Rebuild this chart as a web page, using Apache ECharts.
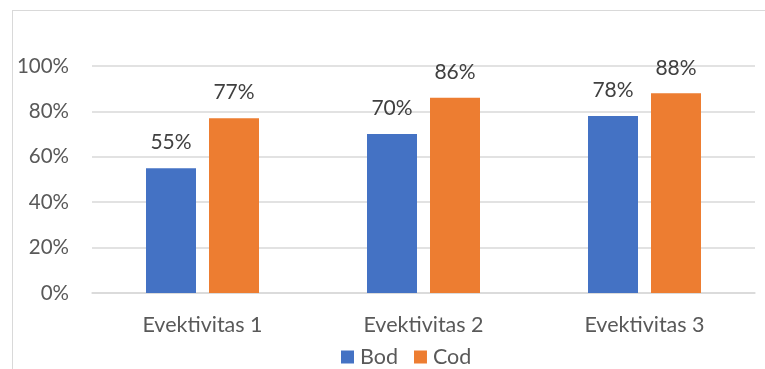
<!DOCTYPE html>
<html>
<head>
<meta charset="utf-8">
<script src="https://cdn.jsdelivr.net/npm/echarts@6/dist/echarts.min.js"></script>
<style>
  html,body{margin:0;padding:0;background:#fff;}
  #frame{position:absolute;left:12px;top:10px;width:800px;height:400px;border:1px solid #d9d9d9;box-sizing:border-box;}
  #chart{position:absolute;left:0;top:0;width:765px;height:369px;}
</style>
</head>
<body>
<div id="frame"></div>
<div id="chart"></div>
<script>
// data
const categories = ["Evektivitas 1", "Evektivitas 2", "Evektivitas 3"];
const bodValues = [55, 70, 78];
const codValues = [77, 86, 88];
const seriesNames = ["Bod", "Cod"];

const textFont = "Lato, 'Open Sans', sans-serif";

let chart = echarts.init(document.getElementById("chart"));

const labelStyle = {
    show: true,
    position: "top",
    distance: 15,
    formatter: p => p.value + "%",
    color: "#404040",
    fontSize: 21,
    fontFamily: textFont
};

const option = {
    animation: false,
    grid: {
        left: 92,
        right: 10,
        top: 66,
        bottom: 76
    },
    legend: {
        data: seriesNames,
        left: 336,
        top: 341,
        itemWidth: 13,
        itemHeight: 13,
        itemGap: 16,
        icon: "rect",
        textStyle: {
            color: "#595959",
            fontSize: 21.5,
            fontFamily: textFont,
            padding: [0, 0, 0, 1]
        }
    },
    xAxis: {
        type: "category",
        data: categories,
        axisTick: { show: false },
        axisLine: {
            lineStyle: { color: "#d9d9d9", width: 1.5 }
        },
        axisLabel: {
            color: "#595959",
            fontSize: 21.5,
            fontFamily: textFont,
            margin: 21
        }
    },
    yAxis: {
        type: "value",
        min: 0,
        max: 100,
        interval: 20,
        axisLine: { show: false },
        axisTick: { show: false },
        axisLabel: {
            formatter: "{value}%",
            color: "#595959",
            fontSize: 20.5,
            fontFamily: textFont,
            margin: 23
        },
        splitLine: {
            lineStyle: { color: "#d9d9d9", width: 1.5 }
        }
    },
    series: [
        {
            name: seriesNames[0],
            type: "bar",
            data: bodValues,
            barWidth: 50,
            barGap: "26%",
            itemStyle: { color: "#4472C4" },
            label: labelStyle
        },
        {
            name: seriesNames[1],
            type: "bar",
            data: codValues,
            barWidth: 50,
            itemStyle: { color: "#ED7D31" },
            label: labelStyle
        }
    ]
};

chart.setOption(option);
</script>
</body>
</html>
